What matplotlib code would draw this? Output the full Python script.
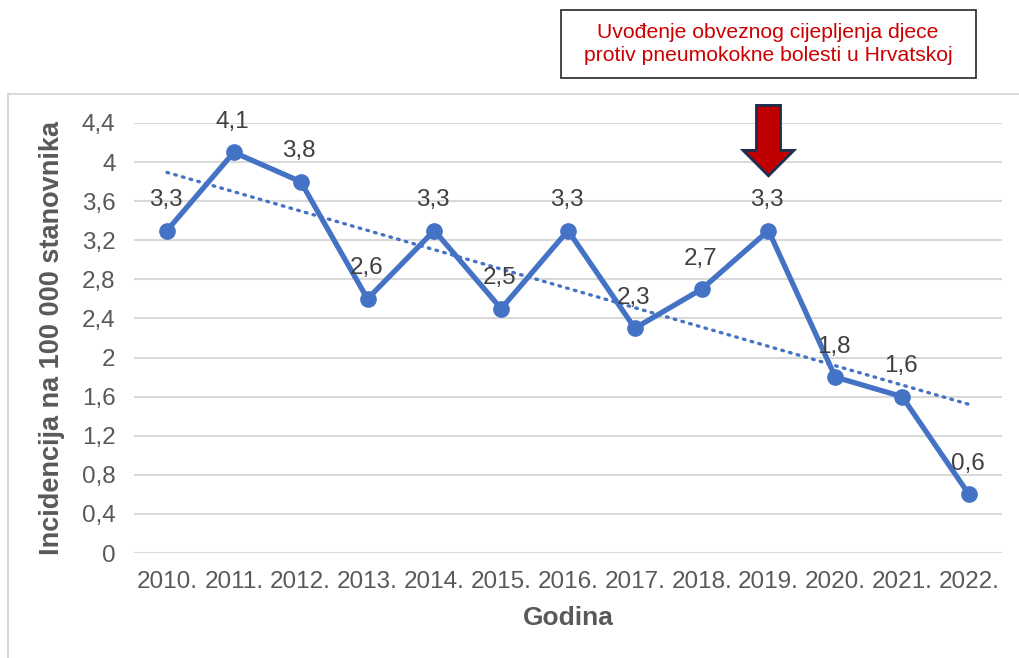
import numpy as np
import matplotlib
matplotlib.use('Agg')
import matplotlib.pyplot as plt
from matplotlib.patches import Rectangle, Polygon

plt.rcParams['font.family'] = ['Liberation Sans', 'DejaVu Sans']

# data
years = ['2010.', '2011.', '2012.', '2013.', '2014.', '2015.', '2016.',
         '2017.', '2018.', '2019.', '2020.', '2021.', '2022.']
incidence = [3.3, 4.1, 3.8, 2.6, 3.3, 2.5, 3.3, 2.3, 2.7, 3.3, 1.8, 1.6, 0.6]
y_ticks = [0, 0.4, 0.8, 1.2, 1.6, 2, 2.4, 2.8, 3.2, 3.6, 4, 4.4]
marked_year = '2019.'
note = 'Uvođenje obveznog cijepljenja djece\nprotiv pneumokokne bolesti u Hrvatskoj'

blue = '#4472C4'
W, H = 1019, 658

fig = plt.figure(figsize=(W / 100, H / 100), dpi=100)
ax = fig.add_axes([133.6 / W, 1 - 553 / H, (1002.4 - 133.6) / W, (553 - 123) / H])

# outer chart frame (cut at right/bottom like the reference)
fig.patches.append(Rectangle((8 / W, -0.05), 1.1, 1 - 94 / H + 0.05,
                             transform=fig.transFigure, fill=False,
                             edgecolor='#d9d9d9', linewidth=1.5))

x = np.arange(len(years))
ax.plot(x, incidence, color=blue, linewidth=3.8, marker='o', markersize=11,
        solid_joinstyle='round', zorder=3)

# linear trend line
k, b = np.polyfit(x, incidence, 1)
ax.plot(x, k * x + b, color=blue, linewidth=2.4,
        linestyle=(0, (0.5, 1.9)), dash_capstyle='round', zorder=2)

for xi, v in zip(x, incidence):
    ax.annotate(f'{v:.1f}'.replace('.', ','), (xi, v), xytext=(-1, 22),
                textcoords='offset points', ha='center', va='center',
                fontsize=17.5, color='#404040', zorder=4)

ax.set_xlim(-0.5, len(years) - 0.5)
ax.set_ylim(0, 4.4)
ax.set_xticks(x)
ax.set_xticklabels(years)
ax.set_yticks(y_ticks)
ax.set_yticklabels([f'{t:g}'.replace('.', ',') for t in y_ticks])
ax.tick_params(length=0, labelsize=17.5, labelcolor='#595959')
ax.tick_params(axis='x', pad=13)
ax.tick_params(axis='y', pad=13)
ax.grid(axis='y', color='#d9d9d9', linewidth=1.5)
ax.set_axisbelow(True)
for s in ax.spines.values():
    s.set_visible(False)

ax.set_xlabel('Godina', fontsize=19, fontweight='bold', color='#595959', labelpad=9)
ax.set_ylabel('Incidencija na 100 000 stanovnika', fontsize=19.5, fontweight='bold',
              color='#595959', labelpad=12)

# arrow above the marked year
xm = years.index(marked_year)
arrow = Polygon([(xm - 0.18, 4.58), (xm + 0.18, 4.58), (xm + 0.18, 4.12),
                 (xm + 0.38, 4.12), (xm, 3.86), (xm - 0.38, 4.12),
                 (xm - 0.18, 4.12)], closed=True, facecolor='#c00000',
                edgecolor='#1f2d4e', linewidth=2, clip_on=False, zorder=5)
ax.add_patch(arrow)

# note box
fig.patches.append(Rectangle((561 / W, 1 - 78 / H), 415 / W, 68 / H,
                             transform=fig.transFigure, facecolor='white',
                             edgecolor='#262626', linewidth=1.2))
fig.text(768 / W, 1 - 44 / H, note, ha='center', va='center', fontsize=15.2,
         color='#cc0000', linespacing=1.3)

fig.savefig('out.png', dpi=100)
